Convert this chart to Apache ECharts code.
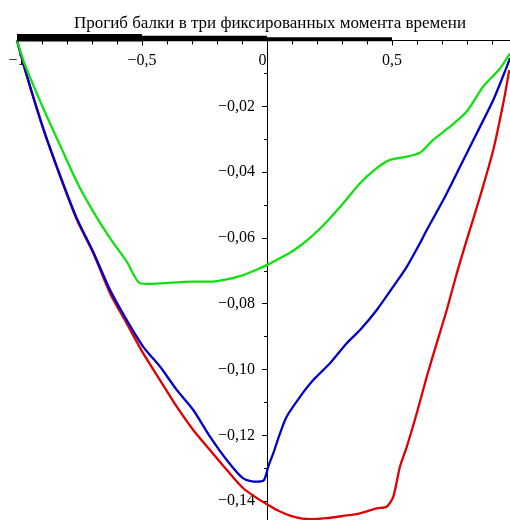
<!DOCTYPE html>
<html>
<head>
<meta charset="utf-8">
<script src="https://cdn.jsdelivr.net/npm/echarts@6/dist/echarts.min.js"></script>
<style>html,body{margin:0;padding:0;background:#fff}#c{width:510px;height:520px}</style>
</head>
<body>
<div id="c"></div>
<script>
const titleText = 'Прогиб балки в три фиксированных момента времени';

const greenX = [-1,-0.968,-0.895,-0.828,-0.761,-0.695,-0.628,-0.561,-0.508,-0.468,-0.428,-0.295,-0.228,-0.161,-0.095,-0.028,0,0.039,0.105,0.172,0.239,0.305,0.372,0.439,0.492,0.545,0.612,0.665,0.732,0.799,0.865,0.932,0.972];
const greenY = [0,-0.0074,-0.0206,-0.0318,-0.0429,-0.0520,-0.0601,-0.0672,-0.0738,-0.0740,-0.0738,-0.0733,-0.0733,-0.0726,-0.0713,-0.0692,-0.0682,-0.0667,-0.0639,-0.0600,-0.0551,-0.0495,-0.0434,-0.0388,-0.0363,-0.0355,-0.0341,-0.0302,-0.0262,-0.0216,-0.0140,-0.0085,-0.0039];

const blueX = [-1,-0.961,-0.895,-0.828,-0.761,-0.695,-0.628,-0.561,-0.495,-0.428,-0.361,-0.295,-0.228,-0.161,-0.095,-0.041,-0.012,0.005,0.025,0.052,0.079,0.132,0.185,0.252,0.319,0.372,0.439,0.505,0.559,0.619,0.639,0.705,0.772,0.839,0.905,0.959,0.972];
const blueY = [0,-0.0105,-0.0267,-0.0409,-0.0540,-0.0643,-0.0758,-0.0850,-0.0931,-0.0991,-0.1062,-0.1123,-0.1204,-0.1275,-0.1331,-0.1341,-0.1336,-0.1295,-0.1255,-0.1194,-0.1143,-0.1083,-0.1032,-0.0981,-0.0920,-0.0880,-0.0819,-0.0748,-0.0688,-0.0606,-0.0576,-0.0485,-0.0384,-0.0282,-0.0181,-0.0080,-0.0054];

const redX = [-1,-0.961,-0.895,-0.828,-0.761,-0.695,-0.628,-0.561,-0.495,-0.428,-0.361,-0.295,-0.228,-0.161,-0.095,-0.028,0.005,0.039,0.105,0.172,0.239,0.305,0.372,0.439,0.479,0.505,0.532,0.559,0.599,0.639,0.679,0.719,0.759,0.799,0.852,0.905,0.945,0.969];
const redY = [0,-0.0108,-0.0269,-0.0412,-0.0544,-0.0646,-0.0768,-0.0860,-0.0951,-0.1032,-0.1113,-0.1184,-0.1245,-0.1305,-0.1361,-0.1397,-0.1412,-0.1427,-0.1447,-0.1455,-0.1452,-0.1445,-0.1437,-0.1422,-0.1417,-0.1387,-0.1295,-0.1235,-0.1133,-0.1022,-0.0920,-0.0819,-0.0708,-0.0606,-0.0475,-0.0333,-0.0191,-0.0090];

// thick black strokes along the top axis: [x start, x end]
const strokeRanges = [[-1,-0.5],[-0.5,0],[0,0.5]];
const strokeLevels = [0.0008,0.0006,0.0004];

function zip(xs, ys){ return xs.map((x,i)=>[x, ys[i]]); }
function fmt(v, d){ return v.toFixed(d).replace('.', ',').replace('-', '\u2212'); }

const chart = echarts.init(document.getElementById('c'), null, {renderer:'canvas'});
const serif = '"Liberation Serif", "DejaVu Serif", serif';
const strokeWidths = [7.5,5.5,4];
const strokeSeries = strokeRanges.map((r,i)=>({
  type:'line', silent:true, symbol:'none', clip:false, z:5,
  data:[[r[0], strokeLevels[i]],[r[1], strokeLevels[i]]],
  lineStyle:{color:'#000', width:strokeWidths[i], cap:'butt'}
}));

const gridLeft = 17, gridW = 500;

chart.setOption({
  animation:false,
  backgroundColor:'#fff',
  title:{text:titleText, left:265, top:10, textAlign:'center',
    textStyle:{fontFamily:serif, fontWeight:'normal', fontSize:17, color:'#000'}},
  grid:{left:gridLeft, right:510-gridLeft-gridW, top:40.5, bottom:-46.9, containLabel:false, outerBoundsMode:'none'},
  xAxis:{type:'value', min:-1, max:1, interval:0.5, position:'top',
    axisLine:{onZero:false, lineStyle:{color:'#000', width:1}},
    axisTick:{show:true, inside:true, length:5, lineStyle:{color:'#000'}},
    minorTick:{show:true, splitNumber:5, length:4, lineStyle:{color:'#000'}},
    splitLine:{show:false},
    axisLabel:{inside:true, margin:12, fontFamily:serif, fontSize:16, color:'#000', showMinLabel:true, showMaxLabel:true, hideOverlap:false,
      formatter:function(v){ if (Math.abs(v-1)<1e-9) return ''; if (Math.abs(v)<1e-9) return '{z|0}'; return Math.abs(v-Math.round(v))<1e-9 ? fmt(v,0) : fmt(v,1); },
      rich:{z:{fontFamily:serif, fontSize:16, color:'#000', padding:[0,9,0,0]}}}
  },
  yAxis:{type:'value', min:-0.16, max:0, interval:0.02, position:'left', offset:-250,
    axisLine:{onZero:false, lineStyle:{color:'#000', width:1}},
    axisTick:{show:true, length:5, lineStyle:{color:'#000'}},
    minorTick:{show:true, splitNumber:2, length:3, lineStyle:{color:'#000'}},
    splitLine:{show:false},
    axisLabel:{margin:12, fontFamily:serif, fontSize:16, color:'#000',
      formatter:function(v){ if (Math.abs(v)<1e-9) return ''; return fmt(v,2); }}
  },
  series:[
    {type:'line', name:'red', symbol:'none', smooth:0.25, data:zip(redX, redY), lineStyle:{color:'#e00000', width:2.3}, z:2},
    {type:'line', name:'blue', symbol:'none', smooth:0.25, data:zip(blueX, blueY), lineStyle:{color:'#0000c8', width:2.3}, z:3},
    {type:'line', name:'green', symbol:'none', smooth:0.25, data:zip(greenX, greenY), lineStyle:{color:'#10e010', width:2.3}, z:4}
  ].concat(strokeSeries)
});
</script>
</body>
</html>
